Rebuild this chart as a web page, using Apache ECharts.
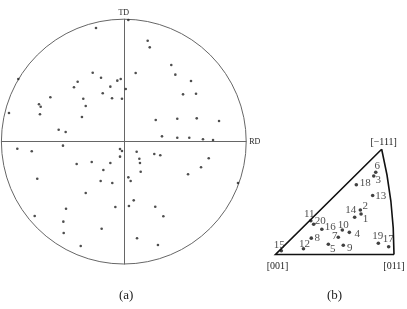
<!DOCTYPE html>
<html lang="en">
  <head>
    <meta charset="UTF-8" />
    <title>Pole figure and IPF</title>
    <script src="https://cdn.jsdelivr.net/npm/echarts@6/dist/echarts.min.js"></script>
    <style>
      html, body { margin: 0; padding: 0; background: #fff; }
      #main { width: 407px; height: 309px; }
    </style>
  </head>
  <body>
    <div id="main"></div>
    <script>
      // (a) pole figure, points in unit-circle coordinates (RD = x, TD = y)
      const poleX = [0.037, -0.227, -0.862, -0.254, -0.186, -0.377, -0.407, -0.053, -0.025, -0.110,
        0.016, -0.172, -0.600, -0.331, -0.096, -0.015, -0.693, -0.679, -0.311, -0.938,
        -0.685, -0.342, -0.532, -0.475, 0.195, 0.212, 0.388, 0.421, 0.097, 0.549,
        0.484, 0.590, 0.261, 0.437, 0.596, 0.778, 0.312, 0.437, 0.535, 0.647,
        0.729, -0.031, -0.015, -0.031, 0.105, 0.249, 0.298, 0.127, 0.132, 0.694,
        0.631, 0.138, 0.525, 0.037, 0.056, 0.933, 0.081, 0.042, 0.257, 0.323,
        0.108, 0.279, -0.870, -0.752, -0.497, -0.385, -0.262, -0.110, -0.167, -0.707,
        -0.189, -0.094, -0.311, -0.069, -0.472, -0.728, -0.494, -0.181, -0.491, -0.352]
      const poleY = [0.993, 0.928, 0.511, 0.563, 0.522, 0.489, 0.444, 0.498, 0.511, 0.449,
        0.430, 0.395, 0.362, 0.350, 0.354, 0.350, 0.305, 0.285, 0.291, 0.234,
        0.223, 0.201, 0.097, 0.078, 0.824, 0.770, 0.626, 0.547, 0.560, 0.495,
        0.386, 0.391, 0.176, 0.187, 0.190, 0.168, 0.043, 0.032, 0.032, 0.019,
        0.013, -0.060, -0.077, -0.123, -0.083, -0.101, -0.112, -0.140, -0.175, -0.136,
        -0.210, -0.246, -0.267, -0.292, -0.322, -0.338, -0.480, -0.526, -0.532, -0.610,
        -0.790, -0.845, -0.058, -0.079, -0.033, -0.183, -0.167, -0.175, -0.232, -0.303,
        -0.322, -0.338, -0.420, -0.534, -0.548, -0.608, -0.654, -0.712, -0.747, -0.853]

      // (b) inverse pole figure, [001] at (0,0) and [011] at (1,0)
      const ipfIds = [1, 2, 3, 4, 5, 6, 7, 8, 9, 10, 11, 12, 13, 14, 15, 16, 17, 18, 19, 20]
      const ipfX = [0.722, 0.716, 0.829, 0.623, 0.446, 0.846, 0.530, 0.302, 0.572, 0.564,
        0.298, 0.236, 0.820, 0.668, 0.049, 0.391, 0.955, 0.682, 0.868, 0.322]
      const ipfY = [0.342, 0.376, 0.662, 0.187, 0.086, 0.694, 0.146, 0.138, 0.078, 0.207,
        0.285, 0.049, 0.498, 0.314, 0.032, 0.213, 0.066, 0.589, 0.095, 0.255]
      // where each number sits relative to its dot (px)
      const ipfLabelOffset = [[4.5, 5], [5, -4], [4.5, 4], [8, 1.5], [4.5, 5], [1.5, -6.5], [-3.5, -1],
        [6, -0.5], [6.5, 3], [1, -4.5], [-1.5, -7], [1, -5], [8, 0.5], [-4, -7.5], [-2, -6],
        [8.5, -2.5], [-0.5, -7.5], [9, -1.5], [-0.5, -7.5], [6.5, -3.5]]

      const ipfApex = [0.896, 0.888]
      const serif = 'Liberation Serif'

      const myChart = echarts.init(document.getElementById('main'))

      // circle through [011] and the apex, centred on the x axis
      const arcCx = (ipfApex[0] ** 2 + ipfApex[1] ** 2 - 1) / (2 * (ipfApex[0] - 1))

      const option = {
        animation: false,
        grid: [
          { left: 1.4, top: 19.2, width: 244.8, height: 244.8 },
          { left: 275.5, top: 136, width: 118.5, height: 118.5 },
        ],
        xAxis: [
          {
            gridIndex: 0, type: 'value', min: -1, max: 1,
            axisLine: { onZero: true, lineStyle: { color: '#666', width: 1 } },
            axisTick: { show: false }, axisLabel: { show: false }, splitLine: { show: false },
          },
          { gridIndex: 1, type: 'value', min: 0, max: 1, show: false },
        ],
        yAxis: [
          {
            gridIndex: 0, type: 'value', min: -1, max: 1,
            axisLine: { onZero: true, lineStyle: { color: '#666', width: 1 } },
            axisTick: { show: false }, axisLabel: { show: false }, splitLine: { show: false },
          },
          { gridIndex: 1, type: 'value', min: 0, max: 1, show: false },
        ],
        graphic: [
          { type: 'text', left: 119, top: 289, style: { text: '(a)', font: '13px ' + serif, fill: '#222' } },
          { type: 'text', left: 327, top: 289, style: { text: '(b)', font: '13px ' + serif, fill: '#222' } },
        ],
        series: [
          {
            type: 'custom',
            xAxisIndex: 0, yAxisIndex: 0,
            silent: true,
            data: [[0, 0]],
            renderItem: function (params, api) {
              const c = api.coord([0, 0])
              const r = api.size([1, 1])[0]
              const top = api.coord([0, 1])
              const right = api.coord([1, 0])
              return {
                type: 'group',
                children: [
                  { type: 'circle', shape: { cx: c[0], cy: c[1], r: r },
                    style: { fill: 'none', stroke: '#666', lineWidth: 1 } },
                  { type: 'text', x: top[0], y: top[1] - 6,
                    style: { text: 'TD', font: '8px ' + serif, fill: '#222', align: 'center', verticalAlign: 'middle' } },
                  { type: 'text', x: right[0] + 3, y: right[1],
                    style: { text: 'RD', font: '8px ' + serif, fill: '#222', align: 'left', verticalAlign: 'middle' } },
                ],
              }
            },
          },
          {
            type: 'scatter',
            xAxisIndex: 0, yAxisIndex: 0,
            symbol: 'circle',
            symbolSize: 2.6,
            itemStyle: { color: '#222' },
            data: poleX.map((x, i) => [x, poleY[i]]),
          },
          {
            type: 'custom',
            xAxisIndex: 1, yAxisIndex: 1,
            silent: true,
            data: [[0, 0]],
            renderItem: function (params, api) {
              const p0 = api.coord([0, 0])
              const p1 = api.coord([1, 0])
              const pa = api.coord(ipfApex)
              const pc = api.coord([arcCx, 0])
              const r = api.size([1 - arcCx, 0])[0]
              const ang = Math.atan2(pa[1] - pc[1], pa[0] - pc[0])
              const txt = (s, x, y) => ({
                type: 'text', x: x, y: y,
                style: { text: s, font: '10px ' + serif, fill: '#222', align: 'center', verticalAlign: 'middle' },
              })
              return {
                type: 'group',
                children: [
                  { type: 'polyline', shape: { points: [pa, p0, p1] },
                    style: { fill: 'none', stroke: '#111', lineWidth: 1.6 } },
                  { type: 'arc', shape: { cx: pc[0], cy: pc[1], r: r, startAngle: ang, endAngle: 0, clockwise: true },
                    style: { fill: 'none', stroke: '#111', lineWidth: 1.6 } },
                  txt('[001]', p0[0] + 2, p0[1] + 12),
                  txt('[011]', p1[0], p1[1] + 12),
                  txt('[\u2212111]', pa[0] + 2, pa[1] - 7),
                ],
              }
            },
          },
          {
            type: 'scatter',
            xAxisIndex: 1, yAxisIndex: 1,
            symbol: 'circle',
            symbolSize: 3.6,
            itemStyle: { color: '#111' },
            label: {
              show: true,
              position: 'inside',
              fontFamily: serif,
              fontSize: 11,
              color: '#222',
              align: 'center',
              verticalAlign: 'middle',
              formatter: (p) => String(ipfIds[p.dataIndex]),
            },
            data: ipfX.map((x, i) => ({
              value: [x, ipfY[i]],
              label: { offset: ipfLabelOffset[i] },
            })),
          },
        ],
      }

      myChart.setOption(option)
    </script>
  </body>
</html>
